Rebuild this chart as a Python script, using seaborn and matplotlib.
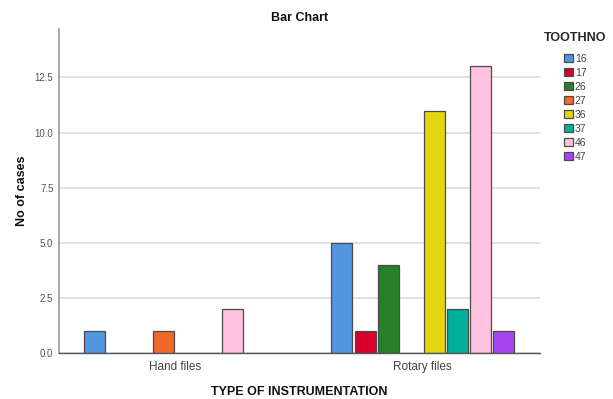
import matplotlib
matplotlib.use("Agg")
import matplotlib.pyplot as plt
from matplotlib.patches import Patch
import pandas as pd
import seaborn as sns

# Case counts by instrumentation type and tooth number
instrumentation = ["Hand files", "Hand files", "Hand files",
                   "Rotary files", "Rotary files", "Rotary files", "Rotary files",
                   "Rotary files", "Rotary files", "Rotary files"]
toothno = ["16", "27", "46",
           "16", "17", "26", "36", "37", "46", "47"]
cases = [1, 1, 2,
         5, 1, 4, 11, 2, 13, 1]

groups = ["Hand files", "Rotary files"]
tooth_order = ["16", "17", "26", "27", "36", "37", "46", "47"]
tooth_colors = ["#5195E0", "#D9002E", "#26802A", "#F2682A",
                "#E3D60F", "#00B09B", "#FEC1DF", "#A645F0"]
yticks = [0.0, 2.5, 5.0, 7.5, 10.0, 12.5]

df = pd.DataFrame({"TYPE": instrumentation, "TOOTHNO": toothno, "cases": cases})

sns.set_theme(style="white")
plt.rcParams["font.family"] = ["Liberation Sans", "DejaVu Sans"]

fig = plt.figure(figsize=(6.13, 3.99), dpi=100)
ax = fig.add_axes([0.0962, 0.1153, 0.785, 0.812])

palette = dict(zip(tooth_order, tooth_colors))
sns.barplot(data=df, x="TYPE", y="cases", hue="TOOTHNO", order=groups,
            hue_order=tooth_order, palette=palette, width=0.745, gap=0.09,
            edgecolor="#4a4a4a", linewidth=0.9, saturation=1, legend=False,
            errorbar=None, ax=ax)

ax.set_xlim(-0.468, 1.474)
ax.set_ylim(0, 14.7)
ax.set_yticks(yticks)
ax.set_yticklabels([f"{v:.1f}" for v in yticks], fontsize=7, color="#555555")
ax.tick_params(axis="x", labelsize=8.5, labelcolor="#444444", length=0, pad=6)
ax.tick_params(axis="y", length=0, pad=4)
ax.yaxis.grid(True, color="#dddddd", linewidth=1.3)
ax.set_axisbelow(True)
for side in ["top", "right"]:
    ax.spines[side].set_visible(False)
ax.spines["left"].set_color("#999999")
ax.spines["left"].set_linewidth(1.2)
ax.spines["bottom"].set_color("#555555")
ax.spines["bottom"].set_linewidth(1.0)

ax.set_xlabel("TYPE OF INSTRUMENTATION", fontsize=9, fontweight="bold",
              color="#111111", labelpad=9)
ax.set_ylabel("No of cases", fontsize=9, fontweight="bold", color="#111111",
              labelpad=5)
ax.set_title("Bar Chart", fontsize=9, fontweight="bold", color="#111111", pad=6)

handles = [Patch(facecolor=c, edgecolor="#4a4a4a", linewidth=0.9)
           for c in tooth_colors]
leg = fig.legend(handles, tooth_order, title="TOOTHNO", loc="upper left",
                 bbox_to_anchor=(0.881, 0.93), frameon=False, fontsize=7.5,
                 title_fontproperties={"weight": "bold", "size": 9},
                 handlelength=0.8, handleheight=0.8, handletextpad=0.2,
                 labelspacing=0.38, borderaxespad=0)
leg._legend_box.sep = 7
for t in leg.get_texts():
    t.set_color("#444444")

fig.savefig("out.png", dpi=100)
